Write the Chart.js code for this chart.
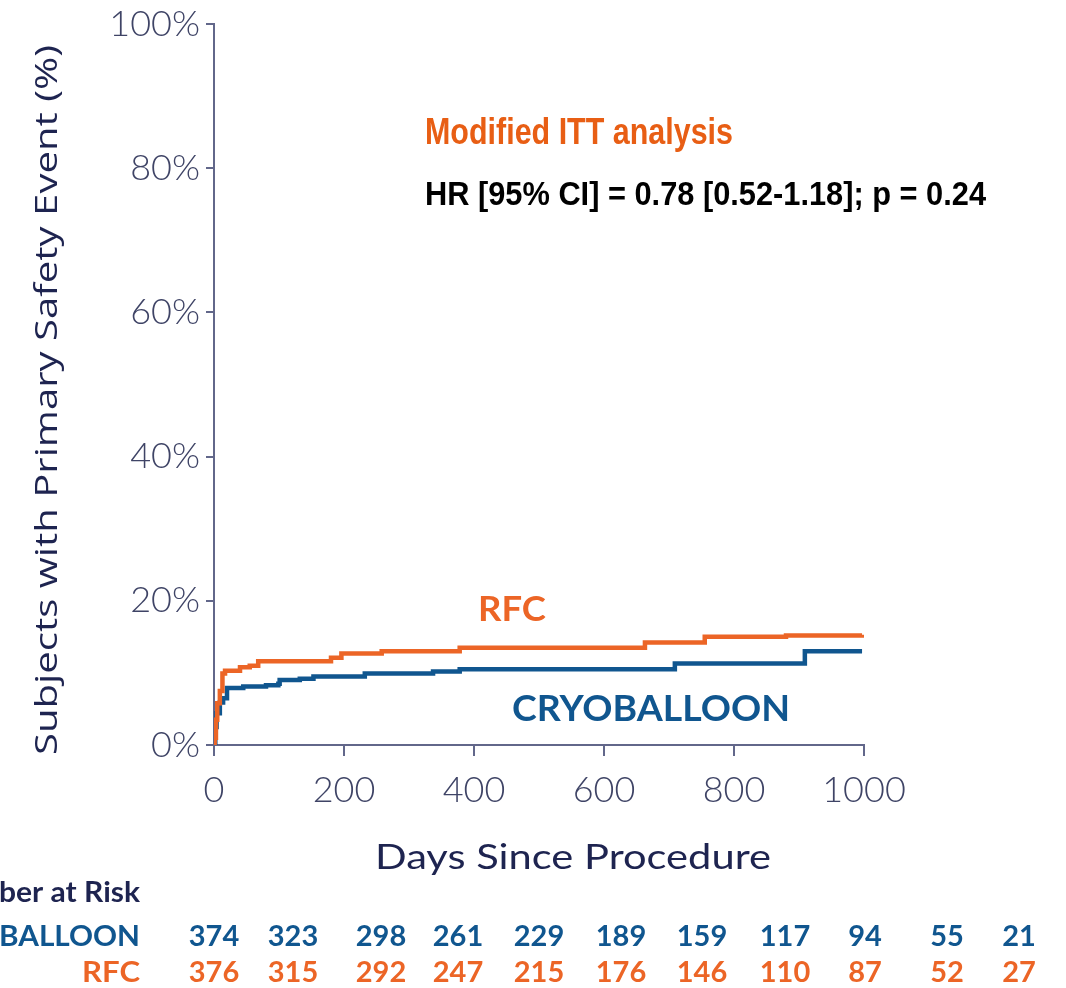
<!DOCTYPE html>
<html>
<head>
<meta charset="utf-8">
<script src="https://cdn.jsdelivr.net/npm/chart.js@4.4.1/dist/chart.umd.min.js"></script>
<style>
  html, body { margin: 0; padding: 0; background: #fff; }
  #wrap { width: 1066px; height: 988px; position: relative; }
</style>
</head>
<body>
<div id="wrap"><canvas id="kmChart" width="1066" height="988"></canvas></div>
<script>
// Kaplan-Meier curves (day, % with event)
const rfcDays = [0, 1, 3, 5, 9, 13, 17, 40, 55, 68, 180, 196, 258, 378, 663, 755, 880, 997];
const rfcPct  = [0, 1.0, 3.5, 5.8, 7.5, 9.9, 10.3, 10.8, 11.0, 11.6, 12.1, 12.7, 13.0, 13.5, 14.2, 15.0, 15.2, 15.3];

const cryoDays = [0, 2, 4, 9, 14, 20, 45, 80, 99, 101, 132, 153, 232, 337, 378, 709, 909, 997];
const cryoPct  = [0, 2.5, 4.4, 5.9, 6.5, 7.9, 8.1, 8.3, 8.5, 9.0, 9.2, 9.5, 9.9, 10.2, 10.5, 11.3, 13.0, 13.0];

const yTicks = [0, 20, 40, 60, 80, 100];
const xLabels = [0, 200, 400, 600, 800, 1000];

// number at risk
const riskCryo = [374, 323, 298, 261, 229, 189, 159, 117, 94, 55, 21];
const riskRfc  = [376, 315, 292, 247, 215, 176, 146, 110, 87, 52, 27];

// where the at-risk columns sit on the page
const riskColX = [214, 293, 381, 458, 539, 621, 702, 785, 865, 947, 1019];

const ORANGE = "#ec6526";
const BLUE = "#10568f";
const NAVY = "#1e2450";
const AXIS = "#62678a";
const TICKTXT = "#3f4466";

function toPoints(xs, ys) {
    return xs.map((x, i) => ({ x: x, y: ys[i] }));
}

// draw text squeezed/stretched to a given width
function drawFitted(ctx, text, x, y, font, width, align) {
    ctx.font = font;
    let w = ctx.measureText(text).width;
    let sx = width ? width / w : 1;
    ctx.save();
    ctx.translate(x, y);
    ctx.scale(sx, 1);
    ctx.textAlign = align || "left";
    ctx.fillText(text, 0, 0);
    ctx.restore();
}

// right aligned row label, only the tail of it fits on the page
function drawTail(ctx, text, tail, right, y, font, tailWidth) {
    ctx.font = font;
    let sx = tailWidth / ctx.measureText(tail).width;
    ctx.save();
    ctx.translate(right, y);
    ctx.scale(sx, 1);
    ctx.textAlign = "right";
    ctx.fillText(text, 0, 0);
    ctx.restore();
}

const textPlugin = {
    id: "kmText",
    afterDraw(chart) {
        let ctx = chart.ctx;
        ctx.save();
        ctx.textBaseline = "middle";

        // axis titles
        ctx.fillStyle = NAVY;
        ctx.save();
        ctx.translate(48, 400);
        ctx.rotate(-Math.PI / 2);
        drawFitted(ctx, "Subjects with Primary Safety Event (%)", 0, 0, "400 31px 'Open Sans'", 710, "center");
        ctx.restore();
        drawFitted(ctx, "Days Since Procedure", 573, 858, "400 34px Lato", 396, "center");

        // annotation
        ctx.fillStyle = "#e85e14";
        drawFitted(ctx, "Modified ITT analysis", 425, 134, "bold 36px 'Liberation Sans Narrow', 'Liberation Sans', Arial", 308, "left");
        ctx.fillStyle = "#000";
        drawFitted(ctx, "HR [95% CI] = 0.78 [0.52-1.18]; p = 0.24", 425, 196, "bold 34px 'Liberation Sans Narrow', 'Liberation Sans', Arial", 561, "left");

        // curve labels
        ctx.fillStyle = ORANGE;
        drawFitted(ctx, "RFC", 478, 610, "bold 35px Lato", 68, "left");
        ctx.fillStyle = BLUE;
        drawFitted(ctx, "CRYOBALLOON", 512, 709, "bold 37px Lato", 278, "left");

        // number at risk table
        let rowFont = "bold 29px Lato";
        ctx.fillStyle = NAVY;
        drawTail(ctx, "Number at Risk", "ber at Risk", 140, 893, rowFont, 141);
        ctx.fillStyle = BLUE;
        drawTail(ctx, "CRYOBALLOON", "BALLOON", 140, 937, rowFont, 141);
        ctx.fillStyle = ORANGE;
        drawTail(ctx, "RFC", "RFC", 140, 973, rowFont, 58);

        riskCryo.forEach((n, i) => {
            ctx.fillStyle = BLUE;
            drawFitted(ctx, String(n), riskColX[i], 937, rowFont, null, "center");
        });
        riskRfc.forEach((n, i) => {
            ctx.fillStyle = ORANGE;
            drawFitted(ctx, String(n), riskColX[i], 973, rowFont, null, "center");
        });
        ctx.restore();
    }
};

let ctx = document.getElementById("kmChart").getContext("2d");
let chart = new Chart(ctx, {
    type: "line",
    data: {
        datasets: [
            {
                label: "RFC",
                data: toPoints(rfcDays, rfcPct),
                borderColor: ORANGE,
                borderWidth: 4.5,
                stepped: "before",
                pointRadius: 0,
                fill: false
            },
            {
                label: "CRYOBALLOON",
                data: toPoints(cryoDays, cryoPct),
                borderColor: BLUE,
                borderWidth: 4.5,
                stepped: "before",
                pointRadius: 0,
                fill: false
            }
        ]
    },
    options: {
        responsive: false,
        animation: false,
        layout: { padding: { left: 0, top: 22, right: 202, bottom: 0 } },
        plugins: {
            legend: { display: false },
            tooltip: { enabled: false }
        },
        scales: {
            x: {
                type: "linear",
                min: 0,
                max: 1000,
                afterFit(scale) { scale.height = 243; },
                border: { display: true, color: AXIS, width: 2 },
                grid: { drawOnChartArea: false, drawTicks: true, tickLength: 11, color: AXIS, lineWidth: 2 },
                ticks: {
                    stepSize: 100,
                    padding: 16,
                    color: TICKTXT,
                    maxRotation: 0,
                    font: { family: "Lato", size: 36, weight: "300", lineHeight: 1 },
                    callback: v => xLabels.includes(v) ? String(v) : ""
                }
            },
            y: {
                min: 0,
                max: 100,
                afterFit(scale) { scale.width = 214; },
                border: { display: true, color: AXIS, width: 2 },
                grid: { drawOnChartArea: false, drawTicks: true, tickLength: 8, color: AXIS, lineWidth: 2 },
                afterBuildTicks(scale) { scale.ticks = yTicks.map(v => ({ value: v })); },
                ticks: {
                    padding: 6,
                    color: TICKTXT,
                    font: { family: "Lato", size: 36, weight: "300", lineHeight: 1 },
                    callback: v => v + "%"
                }
            }
        }
    },
    plugins: [textPlugin]
});
</script>
</body>
</html>
